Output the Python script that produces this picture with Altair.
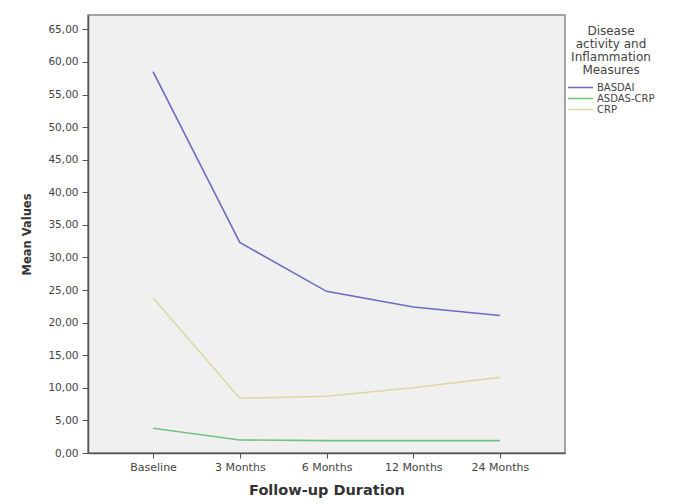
import altair as alt
import pandas as pd

timepoints = ["Baseline", "3 Months", "6 Months", "12 Months", "24 Months"]
basdai = [58.5, 32.3, 24.8, 22.4, 21.1]
asdas_crp = [3.8, 2.0, 1.9, 1.9, 1.9]
crp = [23.8, 8.4, 8.7, 10.0, 11.6]
series_names = ["BASDAI", "ASDAS-CRP", "CRP"]
series_colors = ["#6a6cc0", "#72c282", "#dcd8a6"]
y_ticks = list(range(0, 70, 5))
legend_title = ["Disease", "activity and", "Inflammation", "Measures"]

rows = []
for name, vals in zip(series_names, [basdai, asdas_crp, crp]):
    for t, v in zip(timepoints, vals):
        rows.append({"Follow-up": t, "Measure": name, "Mean": v})
df = pd.DataFrame(rows)

chart = alt.Chart(df).mark_line(strokeWidth=1.6).encode(
    x=alt.X(
        "Follow-up:N",
        sort=timepoints,
        scale=alt.Scale(type="point", padding=0.75),
        axis=alt.Axis(
            title="Follow-up Duration",
            labelAngle=0,
            labelFont="DejaVu Sans",
            labelFontSize=11,
            labelColor="#444444",
            labelPadding=3,
            tickSize=5,
            tickColor="#555555",
            domainColor="#555555",
            domainWidth=1.5,
            titleFont="DejaVu Sans",
            titleFontSize=14.5,
            titleFontWeight="bold",
            titleColor="#333333",
            titlePadding=11,
        ),
    ),
    y=alt.Y(
        "Mean:Q",
        scale=alt.Scale(domain=[0, 67.2], nice=False, zero=True),
        axis=alt.Axis(
            values=y_ticks,
            labelExpr="replace(format(datum.value, '.2f'), '.', ',')",
            grid=False,
            title="Mean Values",
            labelFont="DejaVu Sans",
            labelFontSize=10.5,
            labelColor="#444444",
            labelPadding=4,
            tickSize=6,
            tickColor="#555555",
            domainColor="#555555",
            domainWidth=1.5,
            titleFont="DejaVu Sans",
            titleFontSize=11.5,
            titleFontWeight="bold",
            titleColor="#333333",
            titlePadding=15,
        ),
    ),
    color=alt.Color(
        "Measure:N",
        scale=alt.Scale(domain=series_names, range=series_colors),
        sort=series_names,
        legend=alt.Legend(
            title=legend_title,
            orient="none",
            legendX=479,
            legendY=11,
            symbolType="stroke",
            symbolSize=625,
            symbolStrokeWidth=1.6,
            labelFont="DejaVu Sans",
            labelFontSize=10,
            labelColor="#444444",
            labelOffset=3,
            rowPadding=0,
            clipHeight=11,
            titleFont="DejaVu Sans",
            titleFontSize=12,
            titleFontWeight="normal",
            titleColor="#444444",
            titleAnchor="middle",
            titleAlign="center",
            titleLineHeight=13,
            titlePadding=5,
        ),
    ),
).properties(
    width=477,
    height=438,
    padding={"left": 80, "top": 7, "right": 100, "bottom": 45},
    autosize=alt.AutoSizeParams(type="none"),
).configure_view(
    fill="#f0f0f0",
    stroke="#888888",
    strokeWidth=1.5,
)

chart.save("out.html", embed_options={"renderer": "svg", "actions": False})
